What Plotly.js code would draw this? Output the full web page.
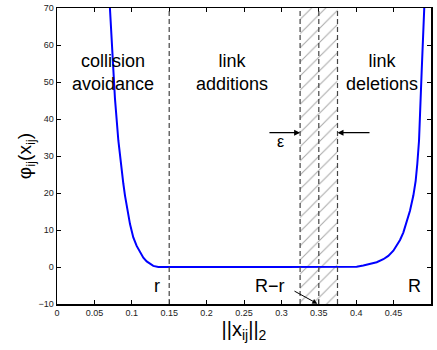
<!DOCTYPE html>
<html>
<head>
<meta charset="utf-8">
<script src="https://cdn.plot.ly/plotly-3.0.1.min.js"></script>
<style>html,body{margin:0;padding:0;background:#fff;}#chart{width:437px;height:350px;}</style>
</head>
<body>
<div id="chart"></div>
<script>
// Potential curve phi_ij(x_ij)
const distance = [0.068, 0.0709, 0.0739, 0.0775, 0.0820, 0.0842, 0.0865, 0.0887, 0.0909, 0.0931, 0.0954, 0.0976, 0.0998, 0.1020, 0.1065, 0.1110, 0.1154, 0.1199, 0.1243, 0.1287, 0.1354, 0.1466, 0.2, 0.3, 0.3917, 0.4006, 0.4095, 0.4184, 0.4274, 0.4363, 0.4429, 0.4497, 0.4541, 0.4586, 0.4630, 0.4675, 0.4719, 0.4764, 0.4795, 0.4817, 0.4830, 0.4840, 0.4875, 0.4910, 0.4930];
const potential = [80, 70, 59.1, 45.5, 34.2, 29.7, 25.6, 22.5, 19.3, 16.6, 13.9, 11.6, 9.8, 8.0, 5.7, 3.9, 2.5, 1.5, 0.8, 0.3, 0.03, 0, 0, 0, 0, 0.1, 0.4, 0.75, 1.3, 2.1, 3.0, 4.4, 5.7, 7.3, 9.3, 12.0, 15.2, 19.3, 23.3, 27.9, 31.5, 34.2, 52.7, 70, 80];

// Region boundaries: r, R-r-eps/2, R-r, R-r+eps/2
const rBound = 0.15;
const bandEdges = [0.325, 0.375];
const rMinusR = 0.35;
const yRange = [-10, 70];
const xRange = [0, 0.5];

const band = {
  x: [bandEdges[0], bandEdges[1], bandEdges[1], bandEdges[0], bandEdges[0]],
  y: [yRange[0], yRange[0], yRange[1], yRange[1], yRange[0]],
  mode: 'lines', line: {width: 0}, fill: 'toself', fillcolor: 'rgba(255,255,255,0)',
  fillpattern: {shape: '/', fgcolor: '#a8a8a8', bgcolor: 'rgba(255,255,255,0)', size: 10, solidity: 0.1},
  hoverinfo: 'skip', showlegend: false
};

const curve = {
  x: distance, y: potential, mode: 'lines',
  line: {color: '#0000ff', width: 2, shape: 'linear'},
  showlegend: false
};

const vlines = [rBound, bandEdges[0], rMinusR, bandEdges[1]].map(v => ({
  type: 'line', xref: 'x', yref: 'paper', x0: v, x1: v, y0: 0, y1: 1,
  line: {color: '#444', width: 1.2, dash: '5px,3px'}
}));

const txtFont = {family: 'Liberation Sans, Arial, sans-serif', size: 18, color: '#000'};
const annotations = [
  {x: 0.0742, y: 52.5, text: 'collision<br>avoidance', showarrow: false, font: txtFont},
  {x: 0.2333, y: 52.5, text: 'link<br>additions', showarrow: false, font: txtFont},
  {x: 0.434, y: 52.5, text: 'link<br>deletions', showarrow: false, font: txtFont},
  {x: 0.134, y: -5.2, text: 'r', showarrow: false, font: txtFont},
  {x: 0.2854, y: -5.2, text: 'R\u2212r', showarrow: false, font: txtFont},
  {x: 0.478, y: -5.2, text: 'R', showarrow: false, font: txtFont},
  {x: 0.299, y: 33.8, text: '\u03b5', showarrow: false, font: {family: 'Liberation Sans, Arial, sans-serif', size: 16, color: '#000'}},
  {x: bandEdges[0], y: 36.3, ax: 0.282, ay: 36.3, axref: 'x', ayref: 'y', text: '', showarrow: true, arrowhead: 2, arrowsize: 1, arrowwidth: 1.2, arrowcolor: '#000'},
  {x: bandEdges[1], y: 36.3, ax: 0.4198, ay: 36.3, axref: 'x', ayref: 'y', text: '', showarrow: true, arrowhead: 2, arrowsize: 1, arrowwidth: 1.2, arrowcolor: '#000'},
  {x: 0.348, y: -9.9, ax: 0.3155, ay: -6.3, axref: 'x', ayref: 'y', text: '', showarrow: true, arrowhead: 2, arrowsize: 1, arrowwidth: 1, arrowcolor: '#000'}
];

const tickFont = {family: 'Liberation Sans, Arial, sans-serif', size: 9, color: '#222'};
const layout = {
  width: 437, height: 350,
  margin: {l: 57, r: 6, t: 8, b: 46},
  paper_bgcolor: '#fff', plot_bgcolor: '#fff',
  xaxis: {
    range: xRange, dtick: 0.05, tick0: 0, ticks: 'inside', ticklen: 4, tickcolor: '#000',
    showline: true, linecolor: '#000', linewidth: 1.5, mirror: 'ticks', showgrid: false, zeroline: false,
    tickfont: tickFont, automargin: false,
    title: {text: '||x<sub>ij</sub>||<sub>2</sub>', font: {family: 'Liberation Sans, Arial, sans-serif', size: 20, color: '#000'}, standoff: 1}
  },
  yaxis: {
    range: yRange, dtick: 10, ticks: 'inside', ticklen: 4, tickcolor: '#000',
    showline: true, linecolor: '#000', linewidth: 1.5, mirror: 'ticks', showgrid: false, zeroline: false,
    tickfont: tickFont, automargin: false,
    title: {text: '\u03c6<sub>ij</sub>(x<sub>ij</sub>)', font: {family: 'Liberation Sans, Arial, sans-serif', size: 19, color: '#000'}, standoff: 2}
  },
  shapes: vlines,
  annotations: annotations,
  showlegend: false
};

Plotly.newPlot('chart', [band, curve], layout, {staticPlot: true, displayModeBar: false});
</script>
</body>
</html>
